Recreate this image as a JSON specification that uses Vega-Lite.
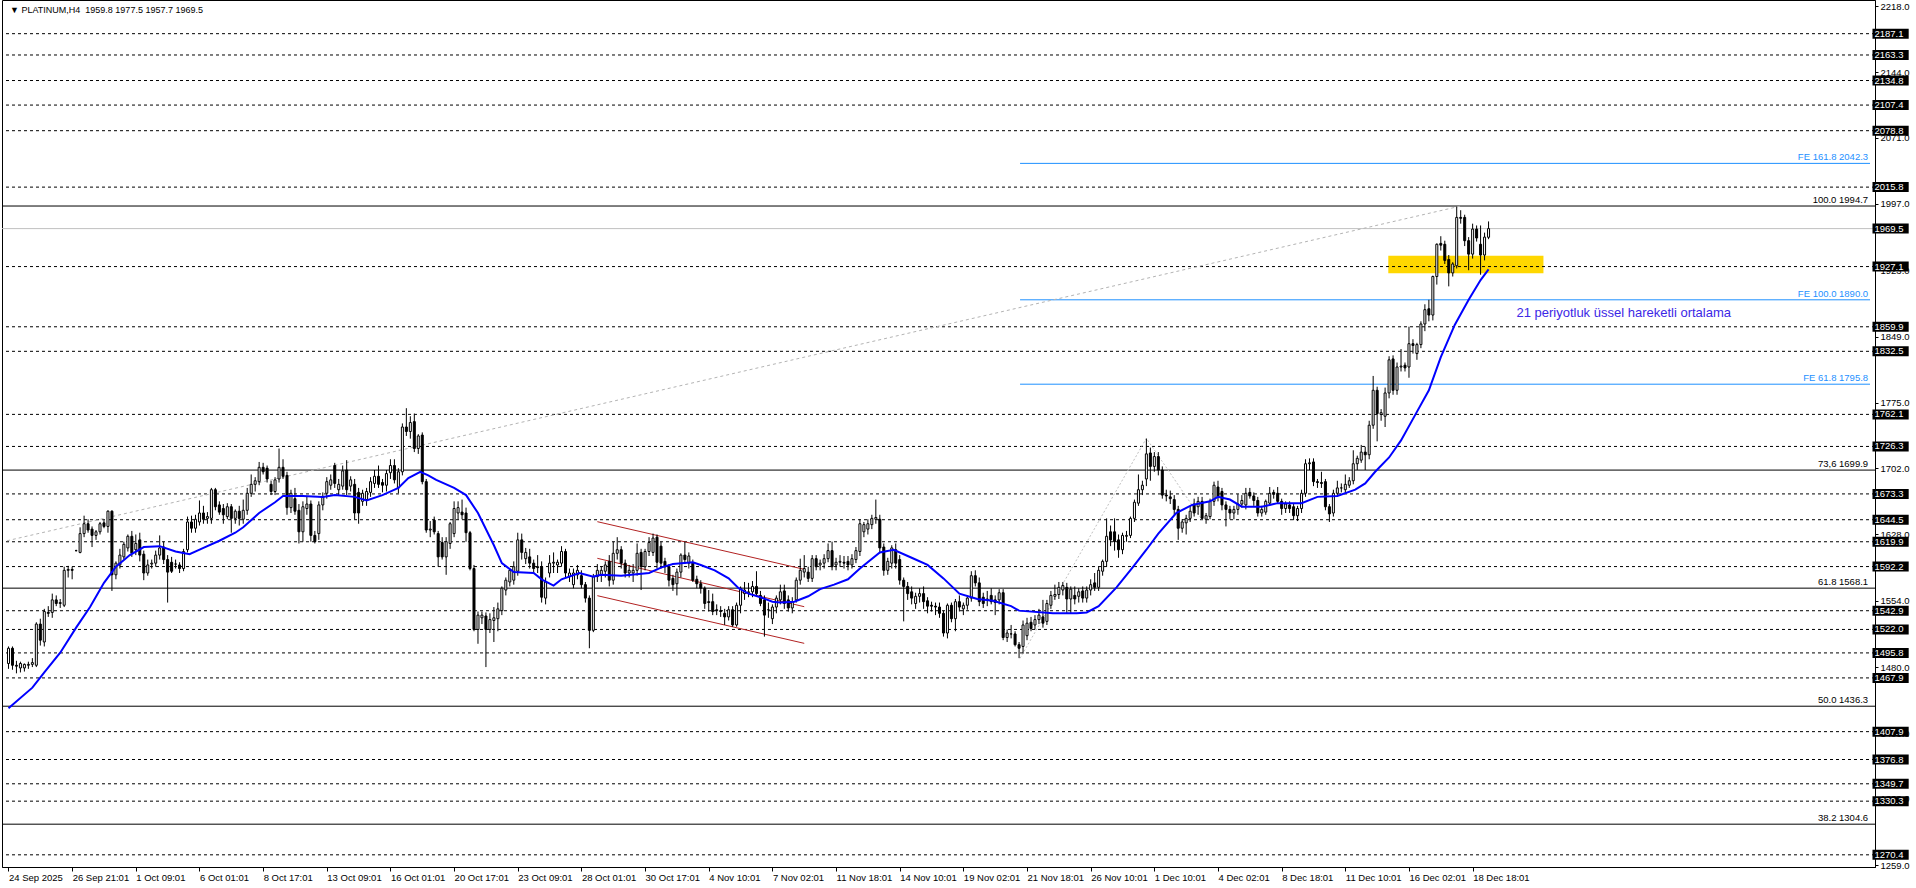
{
"$schema":"https://vega.github.io/schema/vega-lite/v6.json",
"width":1873,"height":867,"autosize":"none",
"padding":{"left":2,"top":0,"right":41,"bottom":21},
"background":"white",
"config":{"view":{"stroke":"black","strokeWidth":1},"font":"Liberation Sans","axis":{"grid":false,"title":null}},
"datasets":{
"candles":[
{"i":0,"o":1484,"h":1503,"l":1478,"c":1501},{"i":1,"o":1501,"h":1503,"l":1477,"c":1482},{"i":2,"o":1482,"h":1487,"l":1473,"c":1481},{"i":3,"o":1479,"h":1486,"l":1474,"c":1484},{"i":4,"o":1479,"h":1484,"l":1475,"c":1483},{"i":5,"o":1482,"h":1486,"l":1478,"c":1483},{"i":6,"o":1483,"h":1490,"l":1480,"c":1485},{"i":7,"o":1482,"h":1530,"l":1480,"c":1528},{"i":8,"o":1528,"h":1534,"l":1504,"c":1510},{"i":9,"o":1508,"h":1545,"l":1503,"c":1542},
{"i":10,"o":1541,"h":1548,"l":1536,"c":1540},{"i":11,"o":1541,"h":1562,"l":1535,"c":1555},{"i":12,"o":1555,"h":1560,"l":1548,"c":1551},{"i":13,"o":1551,"h":1556,"l":1546,"c":1552},{"i":14,"o":1549,"h":1592,"l":1547,"c":1588},{"i":15,"o":1588,"h":1593,"l":1580,"c":1589},{"i":16,"o":1589,"h":1592,"l":1578,"c":1588},{"i":17,"o":1610,"h":1611,"l":1609,"c":1610},{"i":18,"o":1608,"h":1636,"l":1607,"c":1629},{"i":19,"o":1629,"h":1649,"l":1625,"c":1640},
{"i":20,"o":1640,"h":1645,"l":1630,"c":1633},{"i":21,"o":1634,"h":1637,"l":1614,"c":1627},{"i":22,"o":1627,"h":1633,"l":1622,"c":1631},{"i":23,"o":1631,"h":1642,"l":1628,"c":1640},{"i":24,"o":1641,"h":1644,"l":1635,"c":1637},{"i":25,"o":1637,"h":1655,"l":1630,"c":1654},{"i":26,"o":1654,"h":1655,"l":1565,"c":1583},{"i":27,"o":1583,"h":1598,"l":1578,"c":1596},{"i":28,"o":1594,"h":1612,"l":1590,"c":1605},{"i":29,"o":1603,"h":1620,"l":1600,"c":1617},
{"i":30,"o":1613,"h":1628,"l":1609,"c":1626},{"i":31,"o":1626,"h":1632,"l":1603,"c":1607},{"i":32,"o":1611,"h":1628,"l":1605,"c":1618},{"i":33,"o":1622,"h":1630,"l":1598,"c":1605},{"i":34,"o":1606,"h":1610,"l":1577,"c":1585},{"i":35,"o":1585,"h":1600,"l":1582,"c":1594},{"i":36,"o":1595,"h":1600,"l":1590,"c":1596},{"i":37,"o":1596,"h":1610,"l":1592,"c":1605},{"i":38,"o":1605,"h":1627,"l":1600,"c":1613},{"i":39,"o":1614,"h":1620,"l":1595,"c":1600},
{"i":40,"o":1600,"h":1605,"l":1552,"c":1586},{"i":41,"o":1597,"h":1603,"l":1585,"c":1587},{"i":42,"o":1595,"h":1600,"l":1590,"c":1595},{"i":43,"o":1594,"h":1597,"l":1585,"c":1590},{"i":44,"o":1590,"h":1612,"l":1587,"c":1609},{"i":45,"o":1611,"h":1648,"l":1608,"c":1642},{"i":46,"o":1642,"h":1649,"l":1630,"c":1635},{"i":47,"o":1635,"h":1650,"l":1630,"c":1645},{"i":48,"o":1642,"h":1666,"l":1638,"c":1652},{"i":49,"o":1652,"h":1660,"l":1640,"c":1645},
{"i":50,"o":1646,"h":1653,"l":1640,"c":1648},{"i":51,"o":1646,"h":1680,"l":1640,"c":1678},{"i":52,"o":1678,"h":1680,"l":1655,"c":1659},{"i":53,"o":1661,"h":1665,"l":1650,"c":1653},{"i":54,"o":1657,"h":1662,"l":1640,"c":1650},{"i":55,"o":1648,"h":1663,"l":1645,"c":1659},{"i":56,"o":1659,"h":1662,"l":1630,"c":1646},{"i":57,"o":1646,"h":1656,"l":1640,"c":1654},{"i":58,"o":1654,"h":1660,"l":1638,"c":1646},{"i":59,"o":1645,"h":1667,"l":1640,"c":1655},
{"i":60,"o":1655,"h":1680,"l":1650,"c":1674},{"i":61,"o":1674,"h":1695,"l":1670,"c":1684},{"i":62,"o":1684,"h":1692,"l":1676,"c":1688},{"i":63,"o":1687,"h":1709,"l":1683,"c":1703},{"i":64,"o":1703,"h":1708,"l":1695,"c":1698},{"i":65,"o":1702,"h":1705,"l":1686,"c":1690},{"i":66,"o":1684,"h":1688,"l":1672,"c":1676},{"i":67,"o":1676,"h":1692,"l":1672,"c":1689},{"i":68,"o":1690,"h":1724,"l":1686,"c":1703},{"i":69,"o":1703,"h":1712,"l":1690,"c":1693},
{"i":70,"o":1694,"h":1698,"l":1650,"c":1658},{"i":71,"o":1658,"h":1678,"l":1652,"c":1674},{"i":72,"o":1668,"h":1680,"l":1650,"c":1654},{"i":73,"o":1655,"h":1662,"l":1618,"c":1631},{"i":74,"o":1631,"h":1665,"l":1620,"c":1659},{"i":75,"o":1657,"h":1670,"l":1650,"c":1662},{"i":76,"o":1662,"h":1666,"l":1620,"c":1627},{"i":77,"o":1627,"h":1632,"l":1618,"c":1620},{"i":78,"o":1629,"h":1665,"l":1622,"c":1661},{"i":79,"o":1661,"h":1675,"l":1655,"c":1670},
{"i":80,"o":1674,"h":1692,"l":1668,"c":1687},{"i":81,"o":1683,"h":1695,"l":1678,"c":1689},{"i":82,"o":1705,"h":1708,"l":1680,"c":1685},{"i":83,"o":1678,"h":1690,"l":1672,"c":1684},{"i":84,"o":1682,"h":1705,"l":1678,"c":1699},{"i":85,"o":1700,"h":1711,"l":1672,"c":1678},{"i":86,"o":1682,"h":1693,"l":1676,"c":1689},{"i":87,"o":1684,"h":1690,"l":1645,"c":1652},{"i":88,"o":1675,"h":1680,"l":1640,"c":1652},{"i":89,"o":1665,"h":1678,"l":1660,"c":1674},
{"i":90,"o":1667,"h":1680,"l":1660,"c":1676},{"i":91,"o":1675,"h":1692,"l":1670,"c":1687},{"i":92,"o":1685,"h":1700,"l":1680,"c":1693},{"i":93,"o":1693,"h":1705,"l":1680,"c":1684},{"i":94,"o":1686,"h":1690,"l":1675,"c":1683},{"i":95,"o":1683,"h":1700,"l":1676,"c":1696},{"i":96,"o":1697,"h":1712,"l":1690,"c":1705},{"i":97,"o":1705,"h":1712,"l":1685,"c":1689},{"i":98,"o":1680,"h":1702,"l":1674,"c":1698},{"i":99,"o":1698,"h":1752,"l":1694,"c":1748},
{"i":100,"o":1748,"h":1769,"l":1738,"c":1743},{"i":101,"o":1743,"h":1760,"l":1735,"c":1753},{"i":102,"o":1754,"h":1763,"l":1720,"c":1724},{"i":103,"o":1724,"h":1740,"l":1718,"c":1738},{"i":104,"o":1739,"h":1742,"l":1684,"c":1687},{"i":105,"o":1687,"h":1690,"l":1630,"c":1633},{"i":106,"o":1633,"h":1643,"l":1625,"c":1634},{"i":107,"o":1644,"h":1648,"l":1628,"c":1631},{"i":108,"o":1629,"h":1632,"l":1592,"c":1603},{"i":109,"o":1619,"h":1625,"l":1600,"c":1603},
{"i":110,"o":1603,"h":1625,"l":1583,"c":1620},{"i":111,"o":1618,"h":1642,"l":1612,"c":1640},{"i":112,"o":1629,"h":1665,"l":1625,"c":1657},{"i":113,"o":1652,"h":1665,"l":1645,"c":1658},{"i":114,"o":1653,"h":1667,"l":1645,"c":1650},{"i":115,"o":1652,"h":1658,"l":1620,"c":1630},{"i":116,"o":1630,"h":1632,"l":1588,"c":1590},{"i":117,"o":1590,"h":1594,"l":1520,"c":1522},{"i":118,"o":1522,"h":1542,"l":1506,"c":1538},{"i":119,"o":1535,"h":1542,"l":1528,"c":1538},
{"i":120,"o":1537,"h":1541,"l":1480,"c":1522},{"i":121,"o":1522,"h":1540,"l":1518,"c":1533},{"i":122,"o":1532,"h":1547,"l":1508,"c":1535},{"i":123,"o":1534,"h":1552,"l":1520,"c":1545},{"i":124,"o":1543,"h":1570,"l":1538,"c":1568},{"i":125,"o":1566,"h":1580,"l":1560,"c":1577},{"i":126,"o":1575,"h":1590,"l":1570,"c":1588},{"i":127,"o":1577,"h":1598,"l":1572,"c":1592},{"i":128,"o":1587,"h":1630,"l":1582,"c":1622},{"i":129,"o":1622,"h":1629,"l":1600,"c":1608},
{"i":130,"o":1601,"h":1613,"l":1595,"c":1608},{"i":131,"o":1603,"h":1612,"l":1590,"c":1596},{"i":132,"o":1596,"h":1600,"l":1585,"c":1590},{"i":133,"o":1592,"h":1605,"l":1585,"c":1591},{"i":134,"o":1592,"h":1598,"l":1552,"c":1558},{"i":135,"o":1557,"h":1580,"l":1550,"c":1575},{"i":136,"o":1585,"h":1605,"l":1580,"c":1596},{"i":137,"o":1596,"h":1608,"l":1585,"c":1597},{"i":138,"o":1594,"h":1600,"l":1585,"c":1597},{"i":139,"o":1596,"h":1615,"l":1592,"c":1609},
{"i":140,"o":1609,"h":1612,"l":1580,"c":1585},{"i":141,"o":1581,"h":1590,"l":1575,"c":1585},{"i":142,"o":1572,"h":1590,"l":1568,"c":1585},{"i":143,"o":1583,"h":1594,"l":1578,"c":1588},{"i":144,"o":1582,"h":1588,"l":1568,"c":1572},{"i":145,"o":1572,"h":1575,"l":1552,"c":1557},{"i":146,"o":1557,"h":1560,"l":1501,"c":1521},{"i":147,"o":1521,"h":1584,"l":1519,"c":1581},{"i":148,"o":1581,"h":1595,"l":1575,"c":1588},{"i":149,"o":1583,"h":1592,"l":1575,"c":1588},
{"i":150,"o":1587,"h":1598,"l":1580,"c":1594},{"i":151,"o":1598,"h":1605,"l":1570,"c":1577},{"i":152,"o":1577,"h":1620,"l":1572,"c":1607},{"i":153,"o":1607,"h":1625,"l":1600,"c":1611},{"i":154,"o":1611,"h":1615,"l":1590,"c":1596},{"i":155,"o":1596,"h":1600,"l":1580,"c":1585},{"i":156,"o":1585,"h":1594,"l":1580,"c":1588},{"i":157,"o":1585,"h":1595,"l":1575,"c":1588},{"i":158,"o":1588,"h":1618,"l":1582,"c":1607},{"i":159,"o":1608,"h":1612,"l":1566,"c":1592},
{"i":160,"o":1592,"h":1612,"l":1588,"c":1609},{"i":161,"o":1609,"h":1625,"l":1604,"c":1619},{"i":162,"o":1608,"h":1629,"l":1604,"c":1624},{"i":163,"o":1625,"h":1628,"l":1590,"c":1597},{"i":164,"o":1615,"h":1620,"l":1590,"c":1596},{"i":165,"o":1598,"h":1602,"l":1585,"c":1592},{"i":166,"o":1592,"h":1595,"l":1570,"c":1577},{"i":167,"o":1579,"h":1583,"l":1565,"c":1572},{"i":168,"o":1573,"h":1590,"l":1560,"c":1586},{"i":169,"o":1586,"h":1607,"l":1580,"c":1605},
{"i":170,"o":1605,"h":1620,"l":1595,"c":1600},{"i":171,"o":1596,"h":1608,"l":1590,"c":1604},{"i":172,"o":1596,"h":1600,"l":1575,"c":1577},{"i":173,"o":1578,"h":1582,"l":1568,"c":1573},{"i":174,"o":1573,"h":1577,"l":1562,"c":1568},{"i":175,"o":1568,"h":1570,"l":1545,"c":1551},{"i":176,"o":1553,"h":1566,"l":1542,"c":1552},{"i":177,"o":1553,"h":1562,"l":1538,"c":1542},{"i":178,"o":1544,"h":1550,"l":1538,"c":1543},{"i":179,"o":1543,"h":1548,"l":1536,"c":1542},
{"i":180,"o":1540,"h":1545,"l":1527,"c":1536},{"i":181,"o":1536,"h":1548,"l":1532,"c":1544},{"i":182,"o":1544,"h":1548,"l":1525,"c":1527},{"i":183,"o":1527,"h":1552,"l":1525,"c":1549},{"i":184,"o":1549,"h":1570,"l":1540,"c":1568},{"i":185,"o":1562,"h":1575,"l":1555,"c":1566},{"i":186,"o":1563,"h":1574,"l":1558,"c":1564},{"i":187,"o":1564,"h":1576,"l":1558,"c":1570},{"i":188,"o":1570,"h":1587,"l":1560,"c":1562},{"i":189,"o":1560,"h":1565,"l":1548,"c":1551},
{"i":190,"o":1555,"h":1560,"l":1514,"c":1538},{"i":191,"o":1544,"h":1552,"l":1535,"c":1544},{"i":192,"o":1534,"h":1550,"l":1528,"c":1547},{"i":193,"o":1547,"h":1560,"l":1540,"c":1557},{"i":194,"o":1555,"h":1572,"l":1550,"c":1564},{"i":195,"o":1565,"h":1572,"l":1545,"c":1551},{"i":196,"o":1555,"h":1560,"l":1542,"c":1546},{"i":197,"o":1546,"h":1558,"l":1540,"c":1553},{"i":198,"o":1555,"h":1580,"l":1552,"c":1577},{"i":199,"o":1577,"h":1601,"l":1572,"c":1588},
{"i":200,"o":1586,"h":1605,"l":1580,"c":1590},{"i":201,"o":1586,"h":1592,"l":1575,"c":1579},{"i":202,"o":1579,"h":1605,"l":1575,"c":1601},{"i":203,"o":1601,"h":1605,"l":1588,"c":1592},{"i":204,"o":1594,"h":1600,"l":1588,"c":1596},{"i":205,"o":1596,"h":1606,"l":1590,"c":1601},{"i":206,"o":1601,"h":1618,"l":1597,"c":1610},{"i":207,"o":1610,"h":1620,"l":1588,"c":1592},{"i":208,"o":1594,"h":1602,"l":1588,"c":1597},{"i":209,"o":1597,"h":1605,"l":1592,"c":1598},
{"i":210,"o":1597,"h":1604,"l":1590,"c":1596},{"i":211,"o":1598,"h":1604,"l":1588,"c":1594},{"i":212,"o":1594,"h":1606,"l":1590,"c":1601},{"i":213,"o":1600,"h":1614,"l":1596,"c":1610},{"i":214,"o":1609,"h":1645,"l":1604,"c":1640},{"i":215,"o":1631,"h":1642,"l":1625,"c":1639},{"i":216,"o":1634,"h":1645,"l":1628,"c":1640},{"i":217,"o":1639,"h":1650,"l":1634,"c":1646},{"i":218,"o":1645,"h":1667,"l":1640,"c":1647},{"i":219,"o":1645,"h":1650,"l":1608,"c":1613},
{"i":220,"o":1614,"h":1618,"l":1582,"c":1588},{"i":221,"o":1588,"h":1602,"l":1583,"c":1598},{"i":222,"o":1596,"h":1616,"l":1590,"c":1613},{"i":223,"o":1611,"h":1618,"l":1590,"c":1596},{"i":224,"o":1600,"h":1605,"l":1572,"c":1577},{"i":225,"o":1577,"h":1580,"l":1531,"c":1570},{"i":226,"o":1570,"h":1575,"l":1555,"c":1562},{"i":227,"o":1564,"h":1570,"l":1550,"c":1557},{"i":228,"o":1551,"h":1563,"l":1545,"c":1559},{"i":229,"o":1559,"h":1568,"l":1552,"c":1562},
{"i":230,"o":1562,"h":1570,"l":1545,"c":1553},{"i":231,"o":1554,"h":1558,"l":1540,"c":1548},{"i":232,"o":1549,"h":1553,"l":1542,"c":1548},{"i":233,"o":1548,"h":1552,"l":1538,"c":1547},{"i":234,"o":1547,"h":1552,"l":1535,"c":1540},{"i":235,"o":1540,"h":1543,"l":1514,"c":1518},{"i":236,"o":1518,"h":1551,"l":1512,"c":1549},{"i":237,"o":1549,"h":1552,"l":1530,"c":1534},{"i":238,"o":1534,"h":1556,"l":1520,"c":1553},{"i":239,"o":1553,"h":1560,"l":1542,"c":1547},
{"i":240,"o":1545,"h":1552,"l":1538,"c":1549},{"i":241,"o":1549,"h":1560,"l":1544,"c":1557},{"i":242,"o":1557,"h":1587,"l":1553,"c":1582},{"i":243,"o":1582,"h":1588,"l":1570,"c":1574},{"i":244,"o":1574,"h":1580,"l":1548,"c":1553},{"i":245,"o":1558,"h":1563,"l":1546,"c":1551},{"i":246,"o":1555,"h":1565,"l":1548,"c":1556},{"i":247,"o":1560,"h":1568,"l":1550,"c":1553},{"i":248,"o":1555,"h":1560,"l":1538,"c":1552},{"i":249,"o":1555,"h":1567,"l":1550,"c":1563},
{"i":250,"o":1563,"h":1567,"l":1510,"c":1513},{"i":251,"o":1513,"h":1522,"l":1508,"c":1518},{"i":252,"o":1517,"h":1527,"l":1512,"c":1517},{"i":253,"o":1517,"h":1520,"l":1503,"c":1505},{"i":254,"o":1505,"h":1508,"l":1490,"c":1501},{"i":255,"o":1503,"h":1532,"l":1495,"c":1527},{"i":256,"o":1515,"h":1535,"l":1510,"c":1529},{"i":257,"o":1530,"h":1536,"l":1520,"c":1523},{"i":258,"o":1527,"h":1538,"l":1522,"c":1533},{"i":259,"o":1533,"h":1545,"l":1528,"c":1538},
{"i":260,"o":1536,"h":1555,"l":1524,"c":1529},{"i":261,"o":1531,"h":1555,"l":1527,"c":1551},{"i":262,"o":1549,"h":1565,"l":1545,"c":1560},{"i":263,"o":1559,"h":1572,"l":1555,"c":1561},{"i":264,"o":1561,"h":1575,"l":1556,"c":1569},{"i":265,"o":1566,"h":1575,"l":1560,"c":1571},{"i":266,"o":1569,"h":1574,"l":1540,"c":1556},{"i":267,"o":1556,"h":1570,"l":1540,"c":1567},{"i":268,"o":1560,"h":1570,"l":1550,"c":1556},{"i":269,"o":1559,"h":1568,"l":1552,"c":1564},
{"i":270,"o":1565,"h":1570,"l":1552,"c":1557},{"i":271,"o":1557,"h":1570,"l":1552,"c":1566},{"i":272,"o":1566,"h":1578,"l":1560,"c":1572},{"i":273,"o":1574,"h":1585,"l":1565,"c":1569},{"i":274,"o":1569,"h":1592,"l":1565,"c":1588},{"i":275,"o":1587,"h":1600,"l":1582,"c":1598},{"i":276,"o":1598,"h":1646,"l":1592,"c":1626},{"i":277,"o":1631,"h":1638,"l":1615,"c":1622},{"i":278,"o":1631,"h":1646,"l":1610,"c":1620},{"i":279,"o":1622,"h":1628,"l":1602,"c":1611},
{"i":280,"o":1611,"h":1630,"l":1606,"c":1627},{"i":281,"o":1626,"h":1632,"l":1620,"c":1627},{"i":282,"o":1627,"h":1648,"l":1624,"c":1646},{"i":283,"o":1646,"h":1667,"l":1642,"c":1664},{"i":284,"o":1663,"h":1695,"l":1660,"c":1678},{"i":285,"o":1678,"h":1688,"l":1672,"c":1683},{"i":286,"o":1690,"h":1735,"l":1682,"c":1718},{"i":287,"o":1719,"h":1725,"l":1688,"c":1704},{"i":288,"o":1704,"h":1720,"l":1698,"c":1715},{"i":289,"o":1715,"h":1720,"l":1694,"c":1700},
{"i":290,"o":1700,"h":1704,"l":1668,"c":1672},{"i":291,"o":1672,"h":1678,"l":1665,"c":1671},{"i":292,"o":1670,"h":1677,"l":1662,"c":1668},{"i":293,"o":1667,"h":1672,"l":1650,"c":1656},{"i":294,"o":1656,"h":1660,"l":1622,"c":1635},{"i":295,"o":1635,"h":1645,"l":1630,"c":1642},{"i":296,"o":1641,"h":1650,"l":1628,"c":1646},{"i":297,"o":1646,"h":1660,"l":1642,"c":1654},{"i":298,"o":1662,"h":1668,"l":1648,"c":1652},{"i":299,"o":1659,"h":1670,"l":1650,"c":1665},
{"i":300,"o":1665,"h":1670,"l":1645,"c":1646},{"i":301,"o":1645,"h":1652,"l":1640,"c":1649},{"i":302,"o":1648,"h":1668,"l":1645,"c":1665},{"i":303,"o":1665,"h":1687,"l":1660,"c":1683},{"i":304,"o":1681,"h":1688,"l":1665,"c":1670},{"i":305,"o":1676,"h":1680,"l":1655,"c":1661},{"i":306,"o":1661,"h":1665,"l":1637,"c":1656},{"i":307,"o":1656,"h":1660,"l":1645,"c":1652},{"i":308,"o":1652,"h":1660,"l":1645,"c":1656},{"i":309,"o":1656,"h":1673,"l":1650,"c":1662},
{"i":310,"o":1662,"h":1672,"l":1658,"c":1666},{"i":311,"o":1661,"h":1680,"l":1656,"c":1674},{"i":312,"o":1675,"h":1680,"l":1668,"c":1671},{"i":313,"o":1671,"h":1675,"l":1660,"c":1666},{"i":314,"o":1666,"h":1670,"l":1648,"c":1652},{"i":315,"o":1652,"h":1660,"l":1648,"c":1656},{"i":316,"o":1653,"h":1667,"l":1650,"c":1665},{"i":317,"o":1663,"h":1681,"l":1660,"c":1674},{"i":318,"o":1675,"h":1678,"l":1668,"c":1673},{"i":319,"o":1674,"h":1681,"l":1662,"c":1665},
{"i":320,"o":1665,"h":1668,"l":1650,"c":1657},{"i":321,"o":1657,"h":1665,"l":1652,"c":1662},{"i":322,"o":1661,"h":1665,"l":1652,"c":1657},{"i":323,"o":1659,"h":1663,"l":1644,"c":1649},{"i":324,"o":1649,"h":1660,"l":1643,"c":1657},{"i":325,"o":1657,"h":1678,"l":1652,"c":1674},{"i":326,"o":1674,"h":1712,"l":1670,"c":1707},{"i":327,"o":1707,"h":1713,"l":1700,"c":1708},{"i":328,"o":1709,"h":1713,"l":1682,"c":1687},{"i":329,"o":1687,"h":1690,"l":1680,"c":1686},
{"i":330,"o":1686,"h":1698,"l":1680,"c":1685},{"i":331,"o":1687,"h":1690,"l":1655,"c":1659},{"i":332,"o":1659,"h":1662,"l":1642,"c":1651},{"i":333,"o":1652,"h":1678,"l":1648,"c":1674},{"i":334,"o":1674,"h":1688,"l":1670,"c":1680},{"i":335,"o":1680,"h":1685,"l":1675,"c":1680},{"i":336,"o":1678,"h":1695,"l":1674,"c":1684},{"i":337,"o":1683,"h":1692,"l":1680,"c":1688},{"i":338,"o":1688,"h":1722,"l":1684,"c":1707},{"i":339,"o":1707,"h":1716,"l":1700,"c":1713},
{"i":340,"o":1711,"h":1728,"l":1708,"c":1720},{"i":341,"o":1720,"h":1726,"l":1700,"c":1717},{"i":342,"o":1717,"h":1755,"l":1712,"c":1750},{"i":343,"o":1750,"h":1805,"l":1746,"c":1789},{"i":344,"o":1789,"h":1793,"l":1732,"c":1763},{"i":345,"o":1762,"h":1768,"l":1755,"c":1764},{"i":346,"o":1760,"h":1792,"l":1748,"c":1786},{"i":347,"o":1786,"h":1827,"l":1780,"c":1823},{"i":348,"o":1824,"h":1828,"l":1784,"c":1789},{"i":349,"o":1789,"h":1820,"l":1784,"c":1815},
{"i":350,"o":1815,"h":1835,"l":1810,"c":1816},{"i":351,"o":1817,"h":1820,"l":1810,"c":1814},{"i":352,"o":1815,"h":1860,"l":1803,"c":1841},{"i":353,"o":1841,"h":1846,"l":1830,"c":1839},{"i":354,"o":1830,"h":1842,"l":1823,"c":1840},{"i":355,"o":1840,"h":1866,"l":1836,"c":1863},{"i":356,"o":1863,"h":1885,"l":1855,"c":1879},{"i":357,"o":1880,"h":1890,"l":1866,"c":1873},{"i":358,"o":1873,"h":1917,"l":1867,"c":1916},{"i":359,"o":1916,"h":1953,"l":1907,"c":1952},
{"i":360,"o":1953,"h":1961,"l":1945,"c":1951},{"i":361,"o":1952,"h":1956,"l":1930,"c":1934},{"i":362,"o":1935,"h":1940,"l":1905,"c":1920},{"i":363,"o":1920,"h":1932,"l":1916,"c":1930},{"i":364,"o":1928,"h":1994,"l":1925,"c":1982},{"i":365,"o":1982,"h":1990,"l":1975,"c":1981},{"i":366,"o":1982,"h":1985,"l":1950,"c":1956},{"i":367,"o":1956,"h":1960,"l":1923,"c":1941},{"i":368,"o":1941,"h":1975,"l":1936,"c":1969},{"i":369,"o":1969,"h":1973,"l":1955,"c":1959},
{"i":370,"o":1952,"h":1973,"l":1918,"c":1940},{"i":371,"o":1940,"h":1965,"l":1934,"c":1960},{"i":372,"o":1959.8,"h":1977.5,"l":1957.7,"c":1969.5}
],
"ema":[
{"i":0,"p":1434},{"i":6,"p":1457},{"i":9,"p":1474},{"i":13,"p":1496},{"i":17,"p":1524},{"i":20.5,"p":1547},{"i":24,"p":1574},{"i":27,"p":1592},{"i":30.5,"p":1605},{"i":34,"p":1614},{"i":38,"p":1615},{"i":42,"p":1609},{"i":45.5,"p":1606},{"i":49,"p":1613},{"i":53,"p":1621},{"i":57,"p":1630},{"i":59,"p":1636},{"i":63,"p":1652},{"i":67,"p":1664},{"i":69,"p":1671},{"i":74,"p":1671},{"i":79,"p":1670},{"i":82,"p":1672},{"i":87,"p":1670},{"i":90,"p":1666},{"i":94,"p":1672},{"i":98,"p":1680},{"i":100.5,"p":1691},{"i":103.5,"p":1698},{"i":105.5,"p":1694},{"i":107.5,"p":1689},{"i":112,"p":1680},{"i":115,"p":1672},{"i":118,"p":1652},{"i":122,"p":1616},{"i":124,"p":1596},{"i":127,"p":1586},{"i":132,"p":1585},{"i":134,"p":1578},{"i":137,"p":1571},{"i":139,"p":1578},{"i":143.5,"p":1585},{"i":147,"p":1581},{"i":149,"p":1583},{"i":154,"p":1582},{"i":161,"p":1585},{"i":164,"p":1591},{"i":167,"p":1595},{"i":172,"p":1597},{"i":174,"p":1594},{"i":177.5,"p":1588},{"i":181,"p":1579},{"i":183.5,"p":1568},{"i":186,"p":1562},{"i":189,"p":1558},{"i":192,"p":1553},{"i":194,"p":1552},{"i":197.5,"p":1553},{"i":201,"p":1559},{"i":204,"p":1567},{"i":207.5,"p":1572},{"i":211,"p":1578},{"i":214,"p":1590},{"i":219,"p":1608},{"i":222.5,"p":1611},{"i":227,"p":1602},{"i":231,"p":1594},{"i":235,"p":1579},{"i":239,"p":1562},{"i":243.5,"p":1556},{"i":247.5,"p":1554},{"i":252,"p":1548},{"i":254,"p":1543},{"i":262.5,"p":1540},{"i":268.5,"p":1540},{"i":271,"p":1541},{"i":274,"p":1548},{"i":278.5,"p":1569},{"i":282.5,"p":1591},{"i":286,"p":1611},{"i":289,"p":1629},{"i":293.5,"p":1652},{"i":297.5,"p":1661},{"i":302,"p":1665},{"i":304,"p":1670},{"i":307,"p":1667},{"i":310,"p":1659},{"i":315,"p":1659},{"i":319,"p":1663},{"i":325,"p":1663},{"i":329,"p":1670},{"i":334,"p":1671},{"i":338.5,"p":1678},{"i":341,"p":1685},{"i":343.5,"p":1698},{"i":347,"p":1714},{"i":350,"p":1733},{"i":353.5,"p":1761},{"i":357,"p":1789},{"i":360,"p":1826},{"i":363.5,"p":1862},{"i":367,"p":1890},{"i":370,"p":1912},{"i":372,"p":1924}
],
"levels":[{"p":2187.1},{"p":2163.3},{"p":2134.8},{"p":2107.4},{"p":2078.8},{"p":2015.8},{"p":1927.1},{"p":1859.9},{"p":1832.5},{"p":1762.1},{"p":1726.3},{"p":1673.3},{"p":1644.5},{"p":1619.9},{"p":1592.2},{"p":1542.9},{"p":1522.0},{"p":1495.8},{"p":1467.9},{"p":1407.9},{"p":1376.8},{"p":1349.7},{"p":1330.3},{"p":1270.4}],
"boxes":[{"p":2187.1},{"p":2163.3},{"p":2134.8},{"p":2107.4},{"p":2078.8},{"p":2015.8},{"p":1969.5},{"p":1927.1},{"p":1859.9},{"p":1832.5},{"p":1762.1},{"p":1726.3},{"p":1673.3},{"p":1644.5},{"p":1619.9},{"p":1592.2},{"p":1542.9},{"p":1522.0},{"p":1495.8},{"p":1467.9},{"p":1407.9},{"p":1376.8},{"p":1349.7},{"p":1330.3},{"p":1270.4}],
"fibo":[{"p":1994.7,"t":"100.0 1994.7"},{"p":1699.9,"t":"73,6 1699.9"},{"p":1568.1,"t":"61.8 1568.1"},{"p":1436.3,"t":"50.0 1436.3"},{"p":1304.6,"t":"38.2 1304.6"}],
"fe":[{"p":2042.3,"t":"FE 161.8 2042.3"},{"p":1890.0,"t":"FE 100.0 1890.0"},{"p":1795.8,"t":"FE 61.8 1795.8"}],
"bid":[{"p":1969.5}],
"trend":[{"i":-0.375,"p":1621},{"i":365,"p":1994.7}],
"fetrend":[{"i":254.25,"p":1489.8},{"i":286,"p":1735.4},{"i":300,"p":1644.4}],
"channel":[{"g":"u","i":148,"p":1642.3},{"g":"u","i":200,"p":1589.1},{"g":"m","i":148,"p":1601.4},{"g":"m","i":200,"p":1547.4},{"g":"d","i":148,"p":1559.7},{"g":"d","i":200,"p":1506.5}],
"zone":[{"i":346.8,"i2":385.8,"p":1919.6,"p2":1939.2}],
"note":[{"i":379,"p":1875.3,"t":"21 periyotluk üssel hareketli ortalama"}],
"head":[{"i":0.4,"p":2213.5,"t":"▼ PLATINUM,H4\u00a0 1959.8 1977.5 1957.7 1969.5"}]
},
"layer":[
{"data":{"name":"zone"},"mark":{"type":"rect","color":"#ffd700"},
 "encoding":{
  "x":{"field":"i","type":"quantitative","title":null,"scale":{"domain":[-0.375,467.875],"nice":false,"zero":false},
   "axis":{"orient":"bottom","title":null,"grid":false,"values":[0,16,32,48,64,80,96,112,128,144,160,176,192,208,224,240,256,272,288,304,320,336,352,368],
    "labelExpr":"['24 Sep 2025','26 Sep 21:01','1 Oct 09:01','6 Oct 01:01','8 Oct 17:01','13 Oct 09:01','16 Oct 01:01','20 Oct 17:01','23 Oct 09:01','28 Oct 01:01','30 Oct 17:01','4 Nov 10:01','7 Nov 02:01','11 Nov 18:01','14 Nov 10:01','19 Nov 02:01','21 Nov 18:01','26 Nov 10:01','1 Dec 10:01','4 Dec 02:01','8 Dec 18:01','11 Dec 10:01','16 Dec 02:01','18 Dec 18:01'][round(datum.value/16)]",
    "labelAlign":"left","labelBaseline":"top","labelPadding":1,"labelFontSize":9.5,"labelColor":"black","labelFont":"Liberation Sans","labelOverlap":false,"labelFlush":false,"labelBound":false,"tickSize":4,"tickColor":"black","domainColor":"black"}},
  "x2":{"field":"i2"},
  "y":{"field":"p","type":"quantitative","title":null,"scale":{"domain":[1256.8,2224.7],"nice":false,"zero":false},
   "axis":{"orient":"right","title":null,"grid":false,"values":[2218,2181,2144,2107,2071,2034,1997,1960,1923,1886,1849,1812,1775,1738,1702,1665,1628,1591,1554,1517,1480,1443,1406,1369,1333,1296,1259],
    "format":".1f","labelFontSize":9.5,"labelColor":"black","labelFont":"Liberation Sans","labelPadding":2,"labelOverlap":false,"labelFlush":false,"labelBound":false,"tickSize":3,"tickColor":"black","domainColor":"black"}},
  "y2":{"field":"p2"}}},
{"data":{"name":"fibo"},"mark":{"type":"rule","color":"black","strokeWidth":1},
 "encoding":{"y":{"field":"p","type":"quantitative","title":null,"scale":{"domain":[1256.8,2224.7],"nice":false,"zero":false}}}},
{"data":{"name":"levels"},"mark":{"type":"rule","color":"black","strokeWidth":1,"strokeDash":[3,3]},
 "encoding":{"y":{"field":"p","type":"quantitative","title":null,"scale":{"domain":[1256.8,2224.7],"nice":false,"zero":false}}}},
{"data":{"name":"bid"},"mark":{"type":"rule","color":"#c0c0c0","strokeWidth":1},
 "encoding":{"y":{"field":"p","type":"quantitative","title":null,"scale":{"domain":[1256.8,2224.7],"nice":false,"zero":false}}}},
{"data":{"name":"fe"},"mark":{"type":"rule","color":"#1e90ff","strokeWidth":1},
 "encoding":{"x":{"datum":254.25,"type":"quantitative","title":null,"scale":{"domain":[-0.375,467.875],"nice":false,"zero":false}},"x2":{"datum":467.875},
  "y":{"field":"p","type":"quantitative","title":null,"scale":{"domain":[1256.8,2224.7],"nice":false,"zero":false}}}},
{"data":{"name":"trend"},"mark":{"type":"line","color":"#b4b4b4","strokeWidth":1,"strokeDash":[3,3]},
 "encoding":{"x":{"field":"i","type":"quantitative","title":null,"scale":{"domain":[-0.375,467.875],"nice":false,"zero":false}},
  "y":{"field":"p","type":"quantitative","title":null,"scale":{"domain":[1256.8,2224.7],"nice":false,"zero":false}}}},
{"data":{"name":"fetrend"},"mark":{"type":"line","color":"#c0c0c0","strokeWidth":1,"strokeDash":[2,2]},
 "encoding":{"x":{"field":"i","type":"quantitative","title":null,"scale":{"domain":[-0.375,467.875],"nice":false,"zero":false}},
  "y":{"field":"p","type":"quantitative","title":null,"scale":{"domain":[1256.8,2224.7],"nice":false,"zero":false}}}},
{"data":{"name":"channel"},"mark":{"type":"line","color":"#b22222","strokeWidth":1},
 "encoding":{"x":{"field":"i","type":"quantitative","title":null,"scale":{"domain":[-0.375,467.875],"nice":false,"zero":false}},
  "y":{"field":"p","type":"quantitative","title":null,"scale":{"domain":[1256.8,2224.7],"nice":false,"zero":false}},"detail":{"field":"g"}}},
{"data":{"name":"candles"},"mark":{"type":"rule","color":"black","strokeWidth":1},
 "encoding":{"x":{"field":"i","type":"quantitative","title":null,"scale":{"domain":[-0.375,467.875],"nice":false,"zero":false}},
  "y":{"field":"l","type":"quantitative","title":null,"scale":{"domain":[1256.8,2224.7],"nice":false,"zero":false}},"y2":{"field":"h"}}},
{"data":{"name":"candles"},"mark":{"type":"bar","width":2,"stroke":"black","strokeWidth":1},
 "encoding":{"x":{"field":"i","type":"quantitative","title":null,"scale":{"domain":[-0.375,467.875],"nice":false,"zero":false}},
  "y":{"field":"o","type":"quantitative","title":null,"scale":{"domain":[1256.8,2224.7],"nice":false,"zero":false}},"y2":{"field":"c"},
  "fill":{"condition":{"test":"datum.c >= datum.o","value":"white"},"value":"black"}}},
{"data":{"name":"ema"},"mark":{"type":"line","color":"#0000ff","strokeWidth":2},
 "encoding":{"x":{"field":"i","type":"quantitative","title":null,"scale":{"domain":[-0.375,467.875],"nice":false,"zero":false}},
  "y":{"field":"p","type":"quantitative","title":null,"scale":{"domain":[1256.8,2224.7],"nice":false,"zero":false}}}},
{"data":{"name":"fibo"},"mark":{"type":"text","color":"black","fontSize":9.5,"align":"right","baseline":"bottom","dy":-1},
 "encoding":{"x":{"datum":467.4,"type":"quantitative","title":null,"scale":{"domain":[-0.375,467.875],"nice":false,"zero":false}},
  "y":{"field":"p","type":"quantitative","title":null,"scale":{"domain":[1256.8,2224.7],"nice":false,"zero":false}},"text":{"field":"t"}}},
{"data":{"name":"fe"},"mark":{"type":"text","color":"#1e90ff","fontSize":9.5,"align":"right","baseline":"bottom","dy":-1},
 "encoding":{"x":{"datum":467.4,"type":"quantitative","title":null,"scale":{"domain":[-0.375,467.875],"nice":false,"zero":false}},
  "y":{"field":"p","type":"quantitative","title":null,"scale":{"domain":[1256.8,2224.7],"nice":false,"zero":false}},"text":{"field":"t"}}},
{"data":{"name":"note"},"mark":{"type":"text","color":"#3c28e6","fontSize":13,"align":"left","baseline":"middle"},
 "encoding":{"x":{"field":"i","type":"quantitative","title":null,"scale":{"domain":[-0.375,467.875],"nice":false,"zero":false}},
  "y":{"field":"p","type":"quantitative","title":null,"scale":{"domain":[1256.8,2224.7],"nice":false,"zero":false}},"text":{"field":"t"}}},
{"data":{"name":"head"},"mark":{"type":"text","color":"black","fontSize":9,"align":"left","baseline":"middle"},
 "encoding":{"x":{"field":"i","type":"quantitative","title":null,"scale":{"domain":[-0.375,467.875],"nice":false,"zero":false}},
  "y":{"field":"p","type":"quantitative","title":null,"scale":{"domain":[1256.8,2224.7],"nice":false,"zero":false}},"text":{"field":"t"}}},
{"data":{"name":"boxes"},"mark":{"type":"rule","color":"black","strokeWidth":10},
 "encoding":{"x":{"datum":468.5,"type":"quantitative","title":null,"scale":{"domain":[-0.375,467.875],"nice":false,"zero":false}},"x2":{"datum":477.6},
  "y":{"field":"p","type":"quantitative","title":null,"scale":{"domain":[1256.8,2224.7],"nice":false,"zero":false}}}},
{"data":{"name":"boxes"},"mark":{"type":"text","color":"white","fontSize":9.5,"align":"left","baseline":"middle"},
 "encoding":{"x":{"datum":469.0,"type":"quantitative","title":null,"scale":{"domain":[-0.375,467.875],"nice":false,"zero":false}},
  "y":{"field":"p","type":"quantitative","title":null,"scale":{"domain":[1256.8,2224.7],"nice":false,"zero":false}},"text":{"field":"p","format":".1f"}}}
]
}
